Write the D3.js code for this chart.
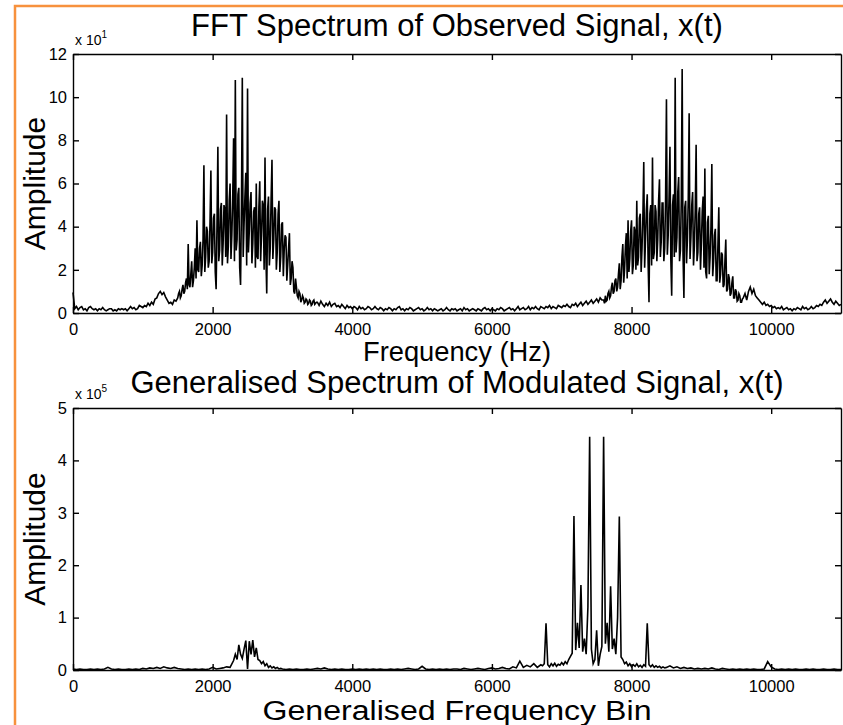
<!DOCTYPE html>
<html>
<head>
<meta charset="utf-8">
<script src="https://cdn.jsdelivr.net/npm/d3@7"></script>
<style>
  body { margin: 0; background: #fff; }
  svg { display: block; font-family: "Liberation Sans", Arial, Helvetica, sans-serif; }
  .line { fill: none; stroke: #000; stroke-width: 1.6; }
  .axis path, .axis line { stroke: #000; stroke-width: 1.4; }
  .axis text { font-size: 16.5px; fill: #000; }
</style>
</head>
<body>
<svg width="843" height="725"></svg>
<script>
// tick values
var xTicks = [0, 2000, 4000, 6000, 8000, 10000];
var fftYTicks = [0, 2, 4, 6, 8, 10, 12];
var genYTicks = [0, 1, 2, 3, 4, 5];
var xMax = 11000;

// FFT spectrum of x(t), amplitude in units of 10^1
// each part: start frequency, step (Hz), values
var fftLow = [0.95, 0.2, 0.3, 0.15, 0.25, 0.3, 0.15, 0.2, 0.1, 0.25,
  0.3, 0.2, 0.15, 0.2, 0.1, 0.2, 0.15, 0.25, 0.15, 0.1,
  0.15, 0.2, 0.2, 0.1, 0.15, 0.1, 0.2, 0.15, 0.2, 0.15,
  0.2, 0.1, 0.2, 0.3, 0.2, 0.25, 0.15, 0.2, 0.35, 0.3,
  0.25, 0.35, 0.3, 0.45, 0.35, 0.5, 0.4, 0.65, 0.7, 0.9,
  1.0, 0.85, 0.95, 0.75, 0.6, 0.45, 0.5, 0.4, 0.6, 0.55];
// 1500 - 3487.5 Hz, 12.5 Hz bins
var fftBandA = [0.7, 0.9, 1.0, 0.7, 0.8, 1.1, 1.3, 0.9, 1.0, 1.4, 1.6, 1.1, 3.2, 1.3, 1.2, 1.8, 2.4, 1.2, 1.5, 2.1,
  3.0, 1.6, 4.3, 2.0, 1.9, 3.0, 3.3, 1.7, 2.2, 3.4, 6.85, 1.9, 2.6, 4.0, 3.8, 2.1, 2.4, 4.2, 6.6, 2.3,
  2.8, 4.4, 4.6, 1.9, 1.1, 4.1, 7.7, 2.4, 2.9, 4.8, 5.1, 2.2, 3.2, 5.0, 4.8, 2.6, 9.2, 2.3, 3.1, 5.2,
  6.0, 2.5, 3.6, 5.3, 8.1, 2.4, 10.8, 2.9, 3.4, 5.5, 5.8, 2.1, 1.3, 4.9, 10.9, 2.6, 4.1, 5.4, 6.5, 2.2,
  10.4, 2.8, 3.8, 5.1, 5.6, 2.3, 3.2, 4.7, 4.9, 2.1, 6.0, 2.6, 2.5, 4.9, 6.1, 2.4, 3.6, 5.2, 5.0, 2.0,
  7.2, 2.7, 0.9, 4.8, 5.4, 2.2, 3.0, 5.3, 7.1, 2.5, 3.4, 4.9, 4.8, 2.0, 2.8, 4.6, 5.2, 1.9, 2.6, 4.1,
  4.2, 1.7, 2.9, 3.6, 3.5, 1.5, 2.2, 3.0, 3.7, 1.3, 1.6, 2.4, 2.1, 1.0, 0.9, 1.6, 1.2, 0.8, 0.7, 1.0,
  0.9, 0.5, 0.6, 0.8, 0.7, 0.45, 0.5, 0.65, 0.6, 0.4, 0.45, 0.6, 0.55, 0.35, 0.4, 0.55, 0.6, 0.4, 0.45, 0.5];
var fftMid = [0.5, 0.35, 0.55, 0.4, 0.3, 0.45, 0.35, 0.5, 0.3, 0.4,
  0.45, 0.3, 0.35, 0.25, 0.4, 0.3, 0.2, 0.35, 0.25, 0.3,
  0.2, 0.3, 0.25, 0.15, 0.3, 0.2, 0.25, 0.15, 0.2, 0.3,
  0.25, 0.15, 0.2, 0.3, 0.2, 0.15, 0.25, 0.2, 0.1, 0.2,
  0.15, 0.25, 0.2, 0.1, 0.2, 0.15, 0.25, 0.3, 0.15, 0.2,
  0.1, 0.2, 0.15, 0.25, 0.2, 0.1, 0.15, 0.2, 0.25, 0.15,
  0.2, 0.1, 0.15, 0.25, 0.15, 0.2, 0.1, 0.2, 0.15, 0.1,
  0.15, 0.2, 0.1, 0.15, 0.25, 0.15, 0.1, 0.2, 0.15, 0.2,
  0.1, 0.15, 0.2, 0.1, 0.25, 0.15, 0.2, 0.1, 0.15, 0.2,
  0.15, 0.1, 0.2, 0.15, 0.1, 0.2, 0.25, 0.15, 0.2, 0.1,
  0.2, 0.15, 0.1, 0.2, 0.15, 0.25, 0.2, 0.1, 0.15, 0.2,
  0.25, 0.15, 0.2, 0.1, 0.2, 0.3, 0.15, 0.2, 0.25, 0.15,
  0.2, 0.3, 0.15, 0.25, 0.2, 0.3, 0.2, 0.15, 0.3, 0.25,
  0.2, 0.3, 0.25, 0.35, 0.2, 0.3, 0.25, 0.2, 0.35, 0.3,
  0.25, 0.35, 0.3, 0.4, 0.3, 0.25, 0.4, 0.35, 0.45, 0.3,
  0.4, 0.5, 0.35, 0.45, 0.55, 0.4, 0.5, 0.6, 0.45, 0.55,
  0.65, 0.5, 0.7, 0.6];
// 7600 - 9587.5 Hz, 12.5 Hz bins
var fftBandB = [0.6, 0.45, 0.8, 0.55, 0.6, 0.9, 1.0, 0.7, 0.8, 1.2, 1.4, 0.9, 1.0, 1.5, 1.6, 1.0, 1.2, 1.8, 2.3, 1.1,
  1.5, 2.6, 3.2, 1.4, 2.0, 3.1, 3.7, 1.6, 4.3, 1.9, 2.5, 3.8, 4.3, 1.8, 2.2, 4.0, 3.8, 2.0, 5.2, 2.2,
  2.6, 4.4, 4.6, 1.9, 3.0, 4.5, 7.0, 2.1, 3.4, 4.8, 5.5, 2.3, 0.5, 4.6, 5.0, 2.2, 7.2, 2.5, 2.8, 5.0,
  4.7, 2.4, 3.4, 5.2, 6.2, 2.6, 3.3, 5.1, 5.1, 2.4, 3.0, 5.3, 9.9, 2.7, 3.6, 5.4, 7.7, 2.5, 0.8, 5.0,
  5.5, 2.6, 10.9, 2.8, 3.5, 5.6, 6.3, 2.4, 2.9, 5.2, 11.3, 2.7, 0.7, 4.9, 5.2, 2.3, 3.4, 5.3, 9.25, 2.5,
  3.5, 5.0, 5.6, 2.2, 3.1, 4.8, 7.8, 2.4, 2.8, 4.6, 4.9, 2.0, 3.2, 4.7, 5.4, 2.1, 6.7, 1.9, 1.6, 4.2,
  4.5, 1.8, 2.6, 4.0, 6.9, 1.7, 2.4, 3.6, 3.9, 1.5, 1.5, 3.2, 4.9, 1.4, 1.8, 2.8, 2.7, 1.2, 1.3, 2.4,
  3.4, 1.0, 1.1, 1.8, 1.6, 0.8, 0.9, 1.4, 1.7, 0.7, 0.7, 1.1, 1.0, 0.55, 0.6, 0.9, 0.8, 0.5, 0.5, 0.65];
var fftHigh = [0.7, 0.9, 0.6, 1.0, 1.2, 0.9, 1.1, 0.8, 0.7, 0.6,
  0.5, 0.4, 0.5, 0.35, 0.4, 0.3, 0.35, 0.25, 0.3, 0.2,
  0.25, 0.2, 0.3, 0.15, 0.2, 0.25, 0.15, 0.2, 0.1, 0.2,
  0.15, 0.25, 0.2, 0.15, 0.3, 0.2, 0.25, 0.15, 0.2, 0.3,
  0.2, 0.25, 0.35, 0.3, 0.4, 0.35, 0.5, 0.6, 0.45, 0.55,
  0.65, 0.5, 0.4, 0.55, 0.45, 0.35, 0.4];

// generalised spectrum, amplitude in units of 10^5
var genLow = [0.02, 0.01, 0.02, 0.01, 0.01, 0.02, 0.01, 0.02, 0.01, 0.02,
  0.05, 0.02, 0.01, 0.02, 0.01, 0.01, 0.02, 0.01, 0.02, 0.01,
  0.03, 0.02, 0.04, 0.03, 0.05, 0.03, 0.06, 0.04, 0.03, 0.05,
  0.03, 0.02, 0.01, 0.02, 0.01, 0.02, 0.01, 0.02, 0.01, 0.02,
  0.05, 0.02, 0.03, 0.04, 0.06, 0.05];
var genBandA = [0.18, 0.3, 0.2, 0.48, 0.3, 0.22, 0.4, 0.56, 0.02, 0.55,
  0.3, 0.57, 0.25, 0.42, 0.2, 0.18, 0.12, 0.16, 0.08, 0.12,
  0.05, 0.08, 0.04, 0.06, 0.03, 0.05, 0.02, 0.03];
var genMid = [0.02, 0.01, 0.02, 0.01, 0.02, 0.01, 0.01, 0.02, 0.01, 0.02,
  0.03, 0.02, 0.04, 0.02, 0.01, 0.02, 0.01, 0.02, 0.01, 0.01,
  0.02, 0.01, 0.02, 0.01, 0.02, 0.01, 0.02, 0.01, 0.02, 0.01,
  0.01, 0.02, 0.01, 0.02, 0.01, 0.02, 0.03, 0.02, 0.01, 0.02,
  0.07, 0.02, 0.01, 0.02, 0.01, 0.02, 0.01, 0.02, 0.01, 0.02,
  0.02, 0.01, 0.03, 0.02, 0.01, 0.02, 0.03, 0.02, 0.01, 0.03,
  0.04, 0.02, 0.03, 0.05, 0.03, 0.02, 0.06, 0.04, 0.17, 0.05,
  0.09, 0.06, 0.12, 0.05, 0.1];
var genBandB = [0.08, 0.12, 0.89, 0.1, 0.06, 0.12, 0.08, 0.13, 0.07, 0.11,
  0.09, 0.14, 0.1, 0.16, 0.12, 0.2, 0.26, 0.32, 2.94, 0.38,
  0.9, 0.42, 1.62, 0.35, 0.6, 0.3, 1.2, 4.45, 0.4, 0.12,
  0.2, 0.76, 0.08, 0.3, 0.45, 4.45, 0.5, 0.9, 0.35, 1.6,
  0.4, 0.6, 0.3, 1.0, 2.93, 0.25, 0.2, 0.12, 0.15, 0.08,
  0.12, 0.06, 0.1, 0.07, 0.12, 0.06, 0.09, 0.05, 0.1, 0.07,
  0.89, 0.1, 0.06, 0.1, 0.05, 0.08, 0.05, 0.07, 0.04, 0.06,
  0.04];
var genHigh = [0.05, 0.08, 0.04, 0.06, 0.03, 0.05, 0.03, 0.04, 0.02, 0.03,
  0.02, 0.03, 0.02, 0.04, 0.02, 0.01, 0.03, 0.02, 0.01, 0.02,
  0.01, 0.02, 0.01, 0.02, 0.01, 0.02, 0.01, 0.01, 0.02, 0.16,
  0.06, 0.02, 0.01, 0.02, 0.01, 0.02, 0.01, 0.02, 0.01, 0.01,
  0.02, 0.01, 0.02, 0.01, 0.01, 0.02, 0.01, 0.01, 0.02, 0.01,
  0.01];

var fftParts = [[0, 25, fftLow], [1500, 12.5, fftBandA], [3500, 25, fftMid],
  [7600, 12.5, fftBandB], [9600, 25, fftHigh]];
var genParts = [[0, 50, genLow], [2300, 25, genBandA], [3000, 50, genMid],
  [6725, 25, genBandB], [8500, 50, genHigh]];

function toPoints(parts) {
  var pts = [];
  parts.forEach(function (p) {
    p[2].forEach(function (v, i) {
      pts.push({ f: p[0] + i * p[1], v: v });
    });
  });
  return pts;
}

var svg = d3.select("svg");

// orange frame, only left and top edges visible
svg.append("rect")
  .attr("x", 15).attr("y", 6)
  .attr("width", 860).attr("height", 760)
  .attr("fill", "#fff")
  .attr("stroke", "#f7913d")
  .attr("stroke-width", 2.5);

var left = 73, right = 841, width = right - left;

function panel(cfg) {
  var height = cfg.bottom - cfg.top;
  var g = svg.append("g").attr("transform", "translate(" + left + "," + cfg.top + ")");

  var x = d3.scaleLinear().domain([0, xMax]).range([0, width]);
  var y = d3.scaleLinear().domain([0, cfg.yMax]).range([height, 0]);

  var line = d3.line().x(function (d) {
    return x(d.f);
  }).y(function (d) {
    return y(d.v);
  });

  g.append("path").datum(cfg.data).attr("class", "line").attr("d", line);

  g.append("g").attr("class", "axis").attr("transform", "translate(0," + height + ")")
    .call(d3.axisBottom(x).tickValues(xTicks).tickSizeInner(-6).tickSizeOuter(0).tickPadding(10).tickFormat(d3.format("d")));
  g.append("g").attr("class", "axis")
    .call(d3.axisTop(x).tickValues(xTicks).tickSizeInner(-6).tickSizeOuter(0).tickFormat(""));
  g.append("g").attr("class", "axis")
    .call(d3.axisLeft(y).tickValues(cfg.yTicks).tickSizeInner(-6).tickSizeOuter(0).tickPadding(6).tickFormat(d3.format("d")));
  g.append("g").attr("class", "axis").attr("transform", "translate(" + width + ",0)")
    .call(d3.axisRight(y).tickValues(cfg.yTicks).tickSizeInner(-6).tickSizeOuter(0).tickFormat(""));

  g.selectAll(".axis").attr("font-family", null).attr("font-size", null);

  // exponent label
  var ex = g.append("text").attr("x", 2).attr("y", -9).style("font-size", "14px");
  ex.append("tspan").text("x 10");
  ex.append("tspan").attr("dy", -7).style("font-size", "10px").text(cfg.exp);

  svg.append("text").attr("x", left + width / 2).attr("y", cfg.titleY)
    .attr("text-anchor", "middle").style("font-size", "31px").text(cfg.title);

  svg.append("text").attr("x", left + width / 2).attr("y", cfg.xLabelY)
    .attr("text-anchor", "middle").style("font-size", cfg.xLabelSize)
    .attr("textLength", cfg.xLabelLen).attr("lengthAdjust", "spacingAndGlyphs")
    .text(cfg.xLabel);

  svg.append("text").attr("transform", "translate(45," + (cfg.top + height / 2) + ") rotate(-90)")
    .attr("text-anchor", "middle").style("font-size", "30px").text("Amplitude");
}

panel({
  top: 54, bottom: 313, yMax: 12, yTicks: fftYTicks, exp: "1",
  data: toPoints(fftParts),
  title: "FFT Spectrum of Observed Signal, x(t)", titleY: 36,
  xLabel: "Frequency (Hz)", xLabelY: 361, xLabelSize: "27px", xLabelLen: 188
});

panel({
  top: 408, bottom: 670, yMax: 5, yTicks: genYTicks, exp: "5",
  data: toPoints(genParts),
  title: "Generalised Spectrum of Modulated Signal, x(t)", titleY: 393,
  xLabel: "Generalised Frequency Bin", xLabelY: 720, xLabelSize: "27px", xLabelLen: 389
});
</script>
</body>
</html>
